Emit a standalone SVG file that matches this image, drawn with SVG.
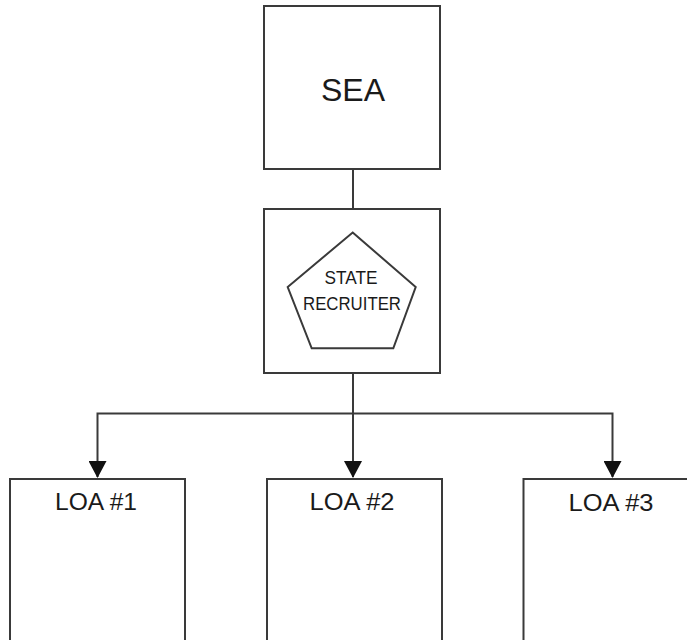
<svg xmlns="http://www.w3.org/2000/svg" width="687" height="640" viewBox="0 0 687 640">
<style>
.box{fill:#fff;stroke:#3a3a3a;stroke-width:2}
.ln{fill:none;stroke:#3a3a3a;stroke-width:2}
.t{font-family:"Liberation Sans",Arial,sans-serif;fill:#1a1a1a;text-anchor:middle}
</style>
<defs>
<marker id="ar" markerUnits="userSpaceOnUse" markerWidth="17" markerHeight="18" refX="16" refY="9" orient="auto" viewBox="0 0 17 18">
<path d="M0,0 L17,9 L0,18 Z" fill="#111"/>
</marker>
</defs>
<g id="connectors">
<line class="ln" x1="353" y1="169" x2="353" y2="209"/>
<line class="ln" x1="353" y1="373" x2="353" y2="477" marker-end="url(#ar)"/>
<polyline class="ln" points="353,413.5 97.5,413.5 97.5,477" marker-end="url(#ar)"/>
<polyline class="ln" points="353,413.5 612.5,413.5 612.5,477" marker-end="url(#ar)"/>
</g>
<g id="sea">
<rect class="box" x="264" y="6" width="176" height="163"/>
<text class="t" x="353" y="101" font-size="32">SEA</text>
</g>
<g id="state-recruiter">
<rect class="box" x="264" y="209" width="176" height="164"/>
<polygon class="ln" points="352.7,232.5 415.7,287 393.3,348.3 311.7,348.3 287.7,287" style="fill:#fff"/>
<text class="t" x="351" y="284" font-size="19" textLength="53" lengthAdjust="spacingAndGlyphs">STATE</text>
<text class="t" x="352" y="310" font-size="19" textLength="98" lengthAdjust="spacingAndGlyphs">RECRUITER</text>
</g>
<g id="loa1">
<rect class="box" x="10" y="479" width="175" height="180"/>
<text class="t" x="96" y="510" font-size="24" textLength="82" lengthAdjust="spacingAndGlyphs">LOA #1</text>
</g>
<g id="loa2">
<rect class="box" x="267" y="479" width="175" height="180"/>
<text class="t" x="352" y="510" font-size="24" textLength="85" lengthAdjust="spacingAndGlyphs">LOA #2</text>
</g>
<g id="loa3">
<rect class="box" x="523.5" y="479" width="175" height="180"/>
<text class="t" x="611" y="511" font-size="24" textLength="85" lengthAdjust="spacingAndGlyphs">LOA #3</text>
</g>
</svg>
